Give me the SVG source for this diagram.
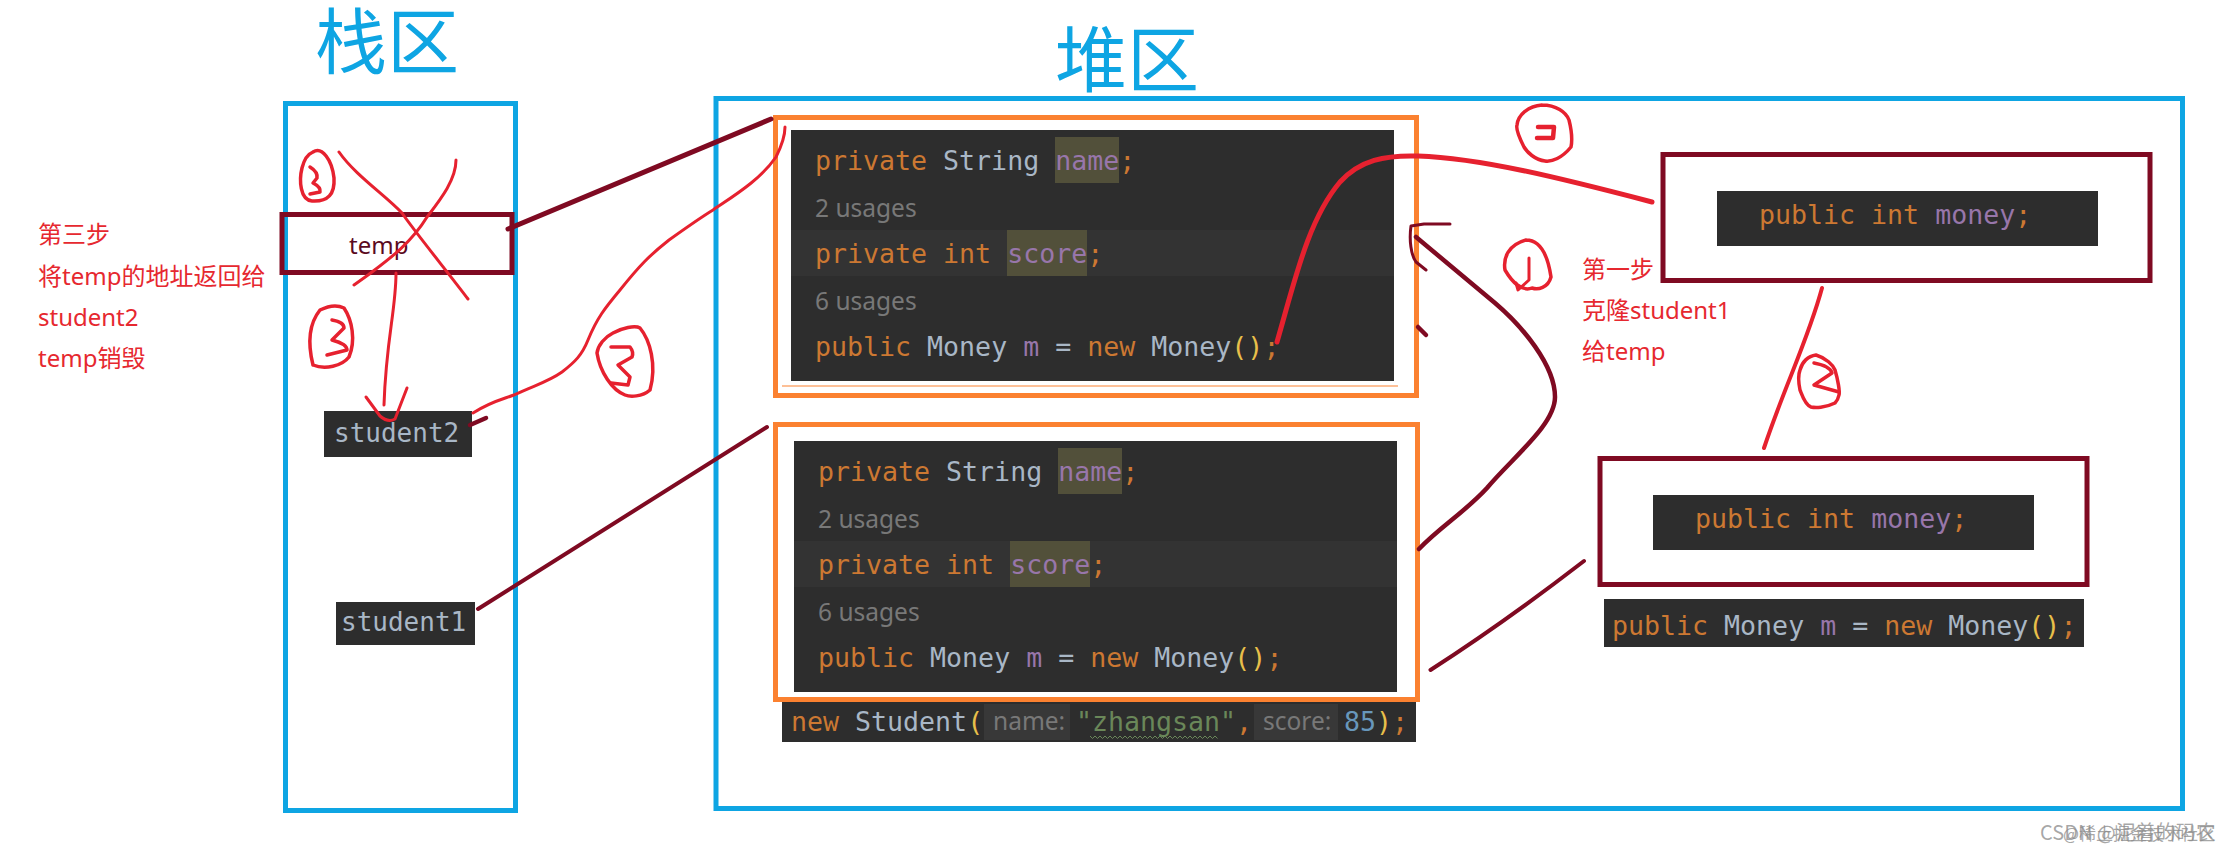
<svg xmlns="http://www.w3.org/2000/svg" width="2226" height="849" viewBox="0 0 2226 849">
<style>
.zone{fill:none;stroke:#0ea5e3;stroke-width:5}
.orange{fill:none;stroke:#fb8130;stroke-width:5}
.maroon{fill:none;stroke:#7f0a22;stroke-width:5}
.dark{fill:#2d2d2d}
.cur{fill:#333333}
.hl{fill:#52503a}
.pill{fill:#383838}
.title{font-family:"Noto Sans CJK SC",sans-serif;font-size:72px;fill:#0ea5e3}
.note{font-family:"Noto Sans","Noto Sans CJK SC",sans-serif;font-size:24px;fill:#e6282f}
.code{font-family:"DejaVu Sans Mono",monospace;font-size:26.6px;fill:#a9b7c6;white-space:pre}
.hint{font-family:"Noto Sans",sans-serif;font-size:24.5px;fill:#787878}
.k{fill:#cc7832}.v{fill:#9876aa}.y{fill:#e8bf4a}.g{fill:#6a8759}.n{fill:#6897bb}
.ink{fill:none;stroke:#e6212f;stroke-width:3;stroke-linecap:round;stroke-linejoin:round}
.ink2{fill:none;stroke:#e6212f;stroke-width:5;stroke-linecap:round;stroke-linejoin:round}
.wire{fill:none;stroke:#7f0a22;stroke-width:4.5;stroke-linecap:round;stroke-linejoin:round}
.mark{font-family:"Noto Sans CJK SC",sans-serif;fill:#8a8a8a;fill-opacity:.75}
</style>
<rect width="2226" height="849" fill="#fff"/>

<g id="stack-zone">
<rect class="zone" x="285.5" y="103.5" width="230" height="707"/>
<text class="title" x="315" y="68">栈区</text>
</g>
<g id="heap-zone">
<rect class="zone" x="716" y="98.5" width="1466.5" height="710"/>
<text class="title" x="1055" y="86">堆区</text>
</g>

<g id="temp">
<rect class="maroon" x="282" y="214.5" width="230" height="58"/>
<text x="349" y="254" font-family="Noto Sans" font-size="24" fill="#5a0a1e">temp</text>
</g>
<g id="student2">
<rect class="dark" x="324" y="411" width="148" height="46"/>
<text class="code" style="font-size:26px" x="334" y="442">student2</text>
</g>
<g id="student1">
<rect class="dark" x="336" y="602" width="139" height="43"/>
<text class="code" style="font-size:26px" x="341" y="631">student1</text>
</g>

<g id="note-step3">
<text class="note" x="38" y="243">第三步</text>
<text class="note" x="38" y="284.5">将temp的地址返回给</text>
<text class="note" x="38" y="326">student2</text>
<text class="note" x="38" y="367">temp销毁</text>
</g>
<g id="note-step1">
<text class="note" x="1582" y="278">第一步</text>
<text class="note" x="1582" y="319">克隆student1</text>
<text class="note" x="1582" y="360">给temp</text>
</g>

<g id="student-copy">
<rect class="orange" x="775.5" y="117.5" width="641" height="278"/>
<rect class="dark" x="791" y="130" width="603" height="251"/>
<rect class="cur" x="791" y="230" width="603" height="46"/>
<rect class="hl" x="1055" y="137" width="64" height="46"/>
<rect class="hl" x="1007" y="230" width="80" height="46"/>
<line x1="782" y1="386" x2="1398" y2="386" stroke="#fb8130" stroke-width="1.2"/>
<text class="code" x="815" y="170"><tspan class="k">private</tspan> String <tspan class="v">name</tspan><tspan class="k">;</tspan></text>
<text class="hint" x="815" y="217">2 usages</text>
<text class="code" x="815" y="263"><tspan class="k">private int</tspan> <tspan class="v">score</tspan><tspan class="k">;</tspan></text>
<text class="hint" x="815" y="310">6 usages</text>
<text class="code" x="815" y="356"><tspan class="k">public</tspan> Money <tspan class="v">m</tspan> = <tspan class="k">new</tspan> Money<tspan class="y">()</tspan><tspan class="k">;</tspan></text>
</g>

<g id="student-original">
<rect class="orange" x="775.5" y="424.5" width="642" height="275"/>
<rect class="dark" x="794" y="441" width="603" height="251"/>
<rect class="cur" x="794" y="541" width="603" height="46"/>
<rect class="hl" x="1058" y="448" width="64" height="46"/>
<rect class="hl" x="1010" y="541" width="80" height="46"/>
<text class="code" x="818" y="481"><tspan class="k">private</tspan> String <tspan class="v">name</tspan><tspan class="k">;</tspan></text>
<text class="hint" x="818" y="528">2 usages</text>
<text class="code" x="818" y="574"><tspan class="k">private int</tspan> <tspan class="v">score</tspan><tspan class="k">;</tspan></text>
<text class="hint" x="818" y="621">6 usages</text>
<text class="code" x="818" y="667"><tspan class="k">public</tspan> Money <tspan class="v">m</tspan> = <tspan class="k">new</tspan> Money<tspan class="y">()</tspan><tspan class="k">;</tspan></text>
</g>

<g id="new-student">
<rect class="dark" x="782" y="702" width="634" height="40"/>
<rect class="pill" x="984" y="704" width="86" height="36"/>
<rect class="pill" x="1254" y="704" width="84" height="36"/>
<text class="code" x="791" y="731"><tspan class="k">new</tspan> Student<tspan class="y">(</tspan></text>
<text class="hint" x="993" y="730">name:</text>
<text class="code" x="1076" y="731"><tspan class="g">"zhangsan"</tspan><tspan class="k">,</tspan></text>
<text class="hint" x="1263" y="730">score:</text>
<text class="code" x="1344" y="731"><tspan class="n">85</tspan><tspan class="y">)</tspan><tspan class="k">;</tspan></text>
<path d="M1090 736l2.5 2.5 2.5-2.5 2.5 2.5 2.5-2.5 2.5 2.5 2.5-2.5 2.5 2.5 2.5-2.5 2.5 2.5 2.5-2.5 2.5 2.5 2.5-2.5 2.5 2.5 2.5-2.5 2.5 2.5 2.5-2.5 2.5 2.5 2.5-2.5 2.5 2.5 2.5-2.5 2.5 2.5 2.5-2.5 2.5 2.5 2.5-2.5 2.5 2.5 2.5-2.5 2.5 2.5 2.5-2.5 2.5 2.5 2.5-2.5 2.5 2.5 2.5-2.5 2.5 2.5 2.5-2.5 2.5 2.5 2.5-2.5 2.5 2.5 2.5-2.5 2.5 2.5 2.5-2.5 2.5 2.5 2.5-2.5 2.5 2.5 2.5-2.5 2.5 2.5 2.5-2.5 2.5 2.5 2.5-2.5 2.5 2.5 2.5-2.5 2.5 2.5" fill="none" stroke="#6a8759" stroke-width="1"/>
</g>

<g id="money-copy">
<rect class="maroon" x="1663" y="154.5" width="487" height="126"/>
<rect class="dark" x="1717" y="191" width="381" height="55"/>
<text class="code" x="1759" y="224"><tspan class="k">public int</tspan> <tspan class="v">money</tspan><tspan class="k">;</tspan></text>
</g>
<g id="money-original">
<rect class="maroon" x="1600" y="458.5" width="487" height="126"/>
<rect class="dark" x="1653" y="495" width="381" height="55"/>
<text class="code" x="1695" y="528"><tspan class="k">public int</tspan> <tspan class="v">money</tspan><tspan class="k">;</tspan></text>
</g>
<g id="money-field">
<rect class="dark" x="1604" y="599" width="480" height="48"/>
<text class="code" x="1612" y="635"><tspan class="k">public</tspan> Money <tspan class="v">m</tspan> = <tspan class="k">new</tspan> Money<tspan class="y">()</tspan><tspan class="k">;</tspan></text>
</g>

<g id="connectors">
<path class="wire" style="stroke-width:5" d="M508 229 L771 119"/>
<path class="wire" style="stroke-width:4" d="M478 609 L767 427"/>
<path class="wire" d="M470 425 L486 418"/>
<path class="wire" d="M1416 237 L1495 303 C1522 326 1555 365 1555 397 C1555 425 1512 458 1487 488 C1465 512 1440 527 1419 549"/>
<path class="wire" style="stroke-width:3" d="M1450 224 L1424 224 L1411 226 C1409 240 1411 255 1416 262 L1426 270"/>
<path class="wire" d="M1418 327 L1426 335"/>
<path class="wire" style="stroke-width:4" d="M1584 561 Q1505 622 1430.5 670"/>
<path class="ink2" d="M1277 342 C1295 280 1308 220 1340 182 C1360 160 1385 155 1418 156 C1480 158 1560 178 1652 202"/>
<path class="ink" style="stroke-width:4" d="M1822 288 C1808 340 1785 385 1764 448"/>
<path class="ink" d="M473 413 C490 402 500 400 514 395 C535 385 548 382 562 372 C575 362 582 355 588 340 C597 318 605 308 620 290 C640 265 650 255 669 240 C690 225 700 218 713 210 C735 195 760 180 776 157 C782 145 785 135 785 127"/>
<path class="ink" d="M396 273 C396 310 386 340 384 405"/>
<path class="ink" d="M366 397 L380 416 Q388 423 395 419 L407 388"/>
<path class="ink" d="M339 152 C355 175 385 195 402 213 C415 232 450 275 468 299"/>
<path class="ink" d="M456 160 C456 180 440 200 427 217 C410 245 385 262 368 275 L354 285"/>
</g>

<g id="marker-3a">
<path class="ink" style="stroke-width:3.5" d="M313 152 C322 146 332 160 334 178 C335 194 328 202 312 201 C300 200 299 180 302 168 C304 160 308 154 313 152"/>
<path class="ink" style="stroke-width:3.5" d="M310 167 Q318 172 317 178 L313 183 Q321 187 320 192 L310 194"/>
</g>
<g id="marker-3b">
<path class="ink" style="stroke-width:3.5" d="M313 365 C308 345 308 325 320 310 C330 305 338 305 344 308 C352 320 356 340 349 357 C342 366 325 370 313 365"/>
<path class="ink" style="stroke-width:3.5" d="M332 320 Q344 322 344 328 L332 340 Q347 344 347 350 L327 355"/>
</g>
<g id="marker-3c">
<path class="ink" style="stroke-width:3.5" d="M613 333 C622 328 635 325 640 328 C650 340 657 365 650 390 C642 397 630 397 625 395 C612 390 600 372 597 353 C598 345 605 337 613 333"/>
<path class="ink" style="stroke-width:3.5" d="M611 347 L630 347 Q634 352 632 357 L618 365 L630 377 L628 385 L611 383"/>
</g>
<g id="marker-1">
<path class="ink" style="stroke-width:3.5" d="M1526 240 C1538 240 1547 250 1551 277 C1548 288 1538 290 1532 288 C1522 292 1512 282 1505 270 C1503 258 1508 245 1526 240"/>
<path class="ink" d="M1529 258 L1529 280 L1518 290 L1516 283"/>
</g>
<g id="marker-2a">
<path class="ink" style="stroke-width:3.5" d="M1542 105 C1556 105 1566 112 1569 120 C1572 132 1572 142 1571 147 C1562 158 1552 162 1545 161 C1535 160 1527 152 1524 147 C1518 135 1516 128 1517 125 C1518 115 1528 106 1542 105"/>
<path class="ink" style="stroke-width:4.5" d="M1538 127 L1554 127 L1553 138 L1537 138"/>
</g>
<g id="marker-2b">
<path class="ink" style="stroke-width:3.5" d="M1816 355 C1826 358 1833 365 1835 370 C1838 380 1840 392 1839 395 C1838 400 1836 402 1835 403 C1825 408 1815 408 1811 407 C1805 405 1802 395 1800 390 C1798 380 1798 375 1800 370 C1802 362 1808 356 1816 355"/>
<path class="ink" style="stroke-width:3.5" d="M1814 363 Q1830 366 1832 373 L1814 385 L1839 392"/>
</g>

<g id="watermark">
<text class="mark" style="font-size:20px" x="2040" y="840">CSDN @泥着的码农</text>
<text class="mark" style="font-size:17px" x="2063" y="840">@稀土掘金技术社区</text>
</g>
</svg>
